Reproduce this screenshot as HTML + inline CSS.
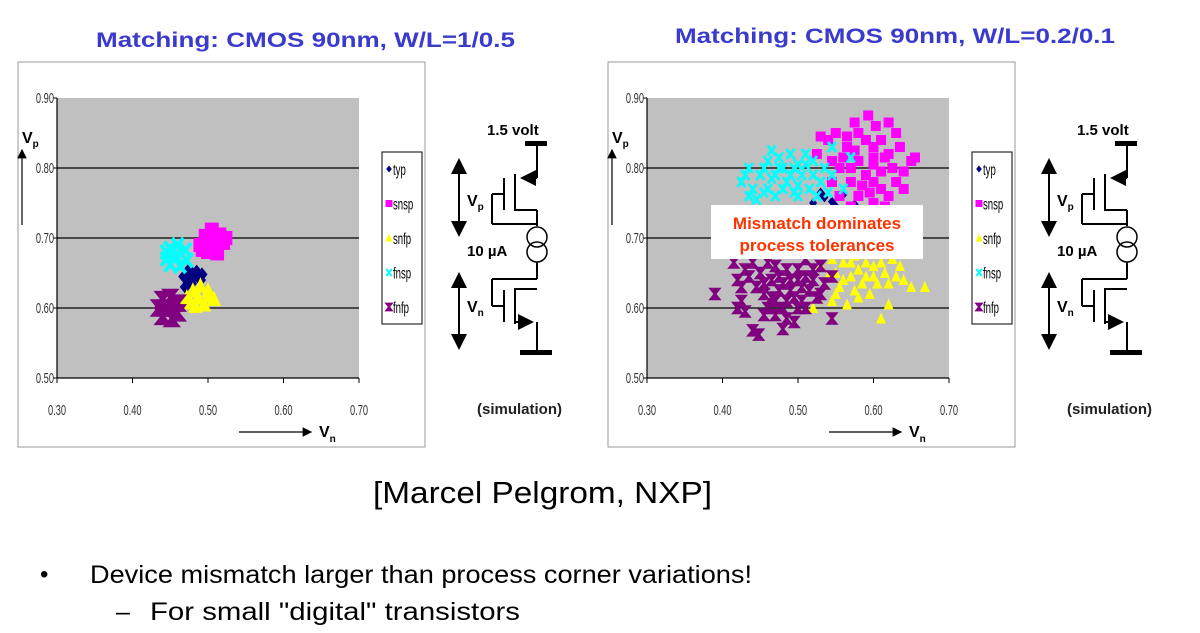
<!DOCTYPE html>
<html><head><meta charset="utf-8">
<style>
html,body{margin:0;padding:0;background:#fff;}
svg{display:block;}
.t{font-family:"Liberation Sans",sans-serif;}
</style></head>
<body>
<svg id="root" width="1200" height="633" viewBox="0 0 1200 633" xmlns="http://www.w3.org/2000/svg">
<defs>
<marker id="ah" markerWidth="8" markerHeight="8" refX="7" refY="4" orient="auto"><path d="M0,0 L8,4 L0,8 z" fill="#000"/></marker>
</defs>
<text class="t" x="96" y="47" font-size="21" font-weight="bold" fill="#3a3acc" textLength="419" lengthAdjust="spacingAndGlyphs">Matching: CMOS 90nm, W/L=1/0.5</text>
<text class="t" x="675" y="43" font-size="21" font-weight="bold" fill="#3a3acc" textLength="440" lengthAdjust="spacingAndGlyphs">Matching: CMOS 90nm, W/L=0.2/0.1</text>
<g id="chartL"></g>
<g id="chartR"></g>
<g id="circL"></g>
<g id="circR"></g>
<text class="t" x="373" y="503" font-size="31" fill="#000" textLength="339" lengthAdjust="spacingAndGlyphs">[Marcel Pelgrom, NXP]</text>
<text class="t" x="40" y="582" font-size="24">•</text>
<text class="t" x="90" y="583" font-size="25" fill="#000" textLength="662" lengthAdjust="spacingAndGlyphs">Device mismatch larger than process corner variations!</text>
<text class="t" x="116" y="620" font-size="25">–</text>
<text class="t" x="150" y="620" font-size="25" fill="#000" textLength="370" lengthAdjust="spacingAndGlyphs">For small "digital" transistors</text>
</svg>
<script>
const xTicks=[0.30,0.40,0.50,0.60,0.70];
const yTicks=[0.50,0.60,0.70,0.80,0.90];
const seriesNames=["typ","snsp","snfp","fnsp","fnfp"];
const seriesColors=["#000080","#ff00ff","#ffff00","#00ffff","#800080"];
// Left chart (W/L=1/0.5) cloud points [Vn,Vp]
const L_typ=[[0.468,0.645],[0.475,0.655],[0.485,0.652],[0.49,0.64],[0.478,0.635],[0.47,0.63],[0.482,0.645],[0.492,0.648],[0.474,0.642]];
const L_snsp=[[0.49,0.69],[0.497,0.703],[0.505,0.712],[0.515,0.705],[0.523,0.7],[0.51,0.688],[0.5,0.68],[0.512,0.678],[0.52,0.693],[0.493,0.683],[0.503,0.695]];
const L_snfp=[[0.472,0.615],[0.48,0.625],[0.49,0.632],[0.5,0.625],[0.508,0.613],[0.495,0.605],[0.483,0.603],[0.487,0.615],[0.477,0.608],[0.503,0.618]];
const L_fnsp=[[0.445,0.67],[0.45,0.685],[0.46,0.69],[0.47,0.683],[0.472,0.668],[0.463,0.66],[0.45,0.662],[0.457,0.675],[0.445,0.68]];
const L_fnfp=[[0.435,0.6],[0.44,0.612],[0.45,0.615],[0.46,0.607],[0.46,0.593],[0.452,0.585],[0.44,0.588],[0.445,0.6]];
// Right chart (W/L=0.2/0.1)
const R_typ=[[0.52,0.75],[0.535,0.758],[0.545,0.752],[0.56,0.762],[0.575,0.748],[0.55,0.745],[0.53,0.765]];
const R_snsp=[[0.525,0.82],[0.54,0.84],[0.55,0.85],[0.565,0.845],[0.58,0.85],[0.593,0.875],[0.603,0.86],[0.62,0.865],[0.63,0.85],[0.6,0.83],[0.615,0.815],[0.625,0.8],[0.64,0.795],[0.65,0.81],[0.655,0.815],[0.58,0.81],[0.59,0.79],[0.57,0.78],[0.555,0.8],[0.6,0.78],[0.61,0.77],[0.62,0.76],[0.58,0.76],[0.6,0.75],[0.545,0.78],[0.565,0.83],[0.61,0.84],[0.63,0.78],[0.545,0.81],[0.56,0.815],[0.575,0.825],[0.59,0.84],[0.6,0.805],[0.61,0.795],[0.62,0.82],[0.635,0.83],[0.57,0.8],[0.585,0.775],[0.595,0.765],[0.64,0.77],[0.555,0.76],[0.57,0.745],[0.615,0.745],[0.53,0.845],[0.575,0.865],[0.6,0.815]];
const R_snfp=[[0.53,0.66],[0.545,0.67],[0.55,0.65],[0.56,0.64],[0.57,0.665],[0.58,0.655],[0.59,0.645],[0.6,0.66],[0.605,0.635],[0.615,0.65],[0.625,0.67],[0.63,0.645],[0.64,0.64],[0.65,0.63],[0.668,0.63],[0.62,0.605],[0.61,0.585],[0.565,0.605],[0.545,0.61],[0.52,0.6],[0.575,0.625],[0.595,0.62],[0.585,0.68],[0.555,0.68],[0.6,0.685],[0.54,0.645],[0.555,0.63],[0.57,0.645],[0.585,0.635],[0.6,0.645],[0.61,0.665],[0.62,0.635],[0.56,0.665],[0.575,0.675],[0.59,0.665],[0.635,0.66],[0.58,0.615],[0.55,0.62]];
const R_fnsp=[[0.425,0.78],[0.435,0.8],[0.44,0.77],[0.45,0.79],[0.46,0.81],[0.465,0.825],[0.475,0.815],[0.48,0.8],[0.49,0.79],[0.495,0.8],[0.5,0.775],[0.51,0.805],[0.52,0.79],[0.53,0.78],[0.46,0.77],[0.47,0.76],[0.48,0.77],[0.5,0.76],[0.515,0.77],[0.545,0.83],[0.57,0.815],[0.545,0.79],[0.56,0.77],[0.435,0.76],[0.49,0.82],[0.445,0.755],[0.455,0.8],[0.47,0.79],[0.485,0.78],[0.505,0.79],[0.525,0.76],[0.54,0.765],[0.455,0.765],[0.475,0.8],[0.495,0.765],[0.51,0.82],[0.43,0.79],[0.52,0.81],[0.535,0.8],[0.465,0.785],[0.5,0.805]];
const R_fnfp=[[0.39,0.62],[0.415,0.665],[0.42,0.64],[0.425,0.61],[0.43,0.595],[0.44,0.665],[0.445,0.63],[0.45,0.65],[0.455,0.62],[0.46,0.6],[0.465,0.64],[0.47,0.66],[0.475,0.625],[0.48,0.6],[0.485,0.585],[0.49,0.64],[0.495,0.615],[0.5,0.655],[0.505,0.63],[0.51,0.6],[0.52,0.64],[0.525,0.615],[0.53,0.66],[0.545,0.585],[0.545,0.645],[0.44,0.568],[0.448,0.562],[0.48,0.57],[0.495,0.58],[0.51,0.67],[0.47,0.61],[0.455,0.59],[0.5,0.6],[0.435,0.645],[0.425,0.63],[0.43,0.655],[0.46,0.665],[0.475,0.645],[0.485,0.655],[0.49,0.625],[0.505,0.61],[0.515,0.625],[0.52,0.655],[0.535,0.635],[0.465,0.615],[0.48,0.635],[0.5,0.64],[0.51,0.645],[0.47,0.59],[0.485,0.61],[0.53,0.62],[0.455,0.635],[0.42,0.6]];
const NS="http://www.w3.org/2000/svg";
function mk(tag,attrs,parent,txt){const e=document.createElementNS(NS,tag);for(const k in attrs)e.setAttribute(k,attrs[k]);if(txt!==undefined)e.textContent=txt;parent.appendChild(e);return e;}
function marker(g,k,cx,cy,s,name){
  let e;
  const c=seriesColors[k];
  if(k===0){e=mk('path',{d:`M${cx},${cy-s} L${cx+s*0.8},${cy} L${cx},${cy+s} L${cx-s*0.8},${cy} z`,fill:c},g);}
  else if(k===1){e=mk('rect',{x:cx-s,y:cy-s,width:2*s,height:2*s,fill:c},g);}
  else if(k===2){e=mk('path',{d:`M${cx},${cy-s*1.2} L${cx+s},${cy+s} L${cx-s},${cy+s} z`,fill:c},g);}
  else if(k===3){e=mk('path',{d:`M${cx-s*0.8},${cy-s} L${cx+s*0.8},${cy+s} M${cx+s*0.8},${cy-s} L${cx-s*0.8},${cy+s}`,stroke:c,'stroke-width':Math.max(1.8,s*0.55),fill:'none'},g);}
  else {e=mk('path',{d:`M${cx-s*0.8},${cy-s} L${cx+s*0.8},${cy-s} L${cx-s*0.8},${cy+s} L${cx+s*0.8},${cy+s} z`,fill:c,stroke:c,'stroke-width':s*0.5},g);}
  
  
  return e;
}
function chart(g,ox,series,ms,legX){
  const px0=ox+57,px1=ox+359,py0=378,py1=98;
  const xs=v=>px0+(v-0.3)/0.4*(px1-px0);
  const ys=v=>py0-(v-0.5)/0.4*(py0-py1);
  let f=mk('rect',{x:ox+18,y:62,width:407,height:385,fill:'#fff',stroke:'#999','stroke-width':1},g);
  
  let pa=mk('rect',{x:px0,y:py1,width:px1-px0,height:py0-py1,fill:'#c0c0c0'},g);
  
  yTicks.forEach(v=>{
    if(v>0.5&&v<0.9){let l=mk('line',{x1:px0,x2:px1,y1:ys(v),y2:ys(v),stroke:'#000','stroke-width':1.3},g);}
    mk('line',{x1:px0-4,x2:px0,y1:ys(v),y2:ys(v),stroke:'#000'},g);
    let t=mk('text',{x:px0-3,y:ys(v)+5,'font-size':15,'text-anchor':'end',fill:'#333','font-family':'Liberation Sans, sans-serif',transform:`translate(${px0-3},0) scale(0.62,1) translate(${-(px0-3)},0)`},g,v.toFixed(2));
    
  });
  mk('line',{x1:px0,x2:px0,y1:py1,y2:py0,stroke:'#000','stroke-width':1.2},g);
  mk('line',{x1:px0,x2:px1,y1:py0,y2:py0,stroke:'#000','stroke-width':1.2},g);
  xTicks.forEach(v=>{
    mk('line',{x1:xs(v),x2:xs(v),y1:py0,y2:py0+5,stroke:'#000'},g);
    let t=mk('text',{x:xs(v),y:415,'font-size':15,'text-anchor':'middle',fill:'#333','font-family':'Liberation Sans, sans-serif',transform:`translate(${xs(v)},0) scale(0.62,1) translate(${-xs(v)},0)`},g,v.toFixed(2));
    
  });
  series.forEach((pts,k)=>{
    const sg=mk('g',{},g);
    
    
    pts.forEach(p=>marker(sg,k,xs(p[0]),ys(p[1]),ms,'point-'+seriesNames[k]));
  });
  let vp=mk('text',{x:ox+22,y:143,'font-size':16,'font-weight':'bold','font-family':'Liberation Sans, sans-serif'},g);
  vp.innerHTML='V<tspan font-size="10" dy="4">p</tspan>';
  
  mk('line',{x1:ox+22,y1:225,x2:ox+22,y2:150,stroke:'#000','stroke-width':1.2,'marker-end':'url(#ah)'},g);
  let vn=mk('text',{x:ox+319,y:437,'font-size':16,'font-weight':'bold','font-family':'Liberation Sans, sans-serif'},g);
  vn.innerHTML='V<tspan font-size="10" dy="5">n</tspan>';
  
  mk('line',{x1:ox+239,y1:432,x2:ox+311,y2:432,stroke:'#000','stroke-width':1.2,'marker-end':'url(#ah)'},g);
  const lg=mk('g',{},g);
  
  mk('rect',{x:legX,y:152,width:40,height:172,fill:'#fff',stroke:'#000','stroke-width':1},lg);
  seriesNames.forEach((n,k)=>{
    const y=169+k*34.5;
    const eg=mk('g',{},lg);
    
    marker(eg,k,legX+7,y,3.5,'legend-marker-'+n);
    mk('text',{x:legX+11,y:y+6,'font-size':16,fill:'#000','font-family':'Liberation Sans, sans-serif',transform:`translate(${legX+11},0) scale(0.6,1) translate(${-(legX+11)},0)`},eg,n);
  });
  return {xs,ys};
}
chart(document.getElementById('chartL'),0,[L_typ,L_snsp,L_snfp,L_fnsp,L_fnfp],7,382);
const gR=document.getElementById('chartR');
chart(gR,590,[R_typ,R_snsp,R_snfp,R_fnsp,R_fnfp],5,972);
const box=mk('g',{},gR);

mk('rect',{x:711,y:205,width:212,height:54,fill:'#fff'},box);
mk('text',{x:817,y:229,'font-size':17,'font-weight':'bold',fill:'#ff3300','text-anchor':'middle','font-family':'Liberation Sans, sans-serif'},box,'Mismatch dominates');
mk('text',{x:817,y:251,'font-size':17,'font-weight':'bold',fill:'#ff3300','text-anchor':'middle','font-family':'Liberation Sans, sans-serif'},box,'process tolerances');
function circuit(g,dx){
  const L=(a,b,c,d,w)=>mk('line',{x1:a+dx,y1:b,x2:c+dx,y2:d,stroke:'#000','stroke-width':w||2},g);
  let t=mk('text',{x:487+dx,y:135,'font-size':15,'font-weight':'bold','font-family':'Liberation Sans, sans-serif'},g,'1.5 volt');
  
  mk('rect',{x:525+dx,y:141,width:22,height:5,fill:'#000'},g);
  L(537,146,537,178);
  mk('line',{x1:537+dx,y1:178,x2:522+dx,y2:178,stroke:'#000','stroke-width':2,'marker-end':'url(#ah)'},g);
  L(515,174,515,211); L(504,178,504,210);
  L(504,194,492,194); L(492,194,492,224); L(492,224,537,224);
  L(515,210,537,210); L(537,210,537,226);
  mk('circle',{cx:537+dx,cy:237,r:10,fill:'none',stroke:'#000','stroke-width':1.5},g);
  mk('circle',{cx:537+dx,cy:252,r:10,fill:'none',stroke:'#000','stroke-width':1.5},g);
  L(537,262,537,279); L(492,279,537,279); L(492,279,492,306); L(492,306,504,306);
  L(504,290,504,322); L(515,288,515,324); L(515,289,537,289);
  mk('line',{x1:515+dx,y1:322,x2:532+dx,y2:322,stroke:'#000','stroke-width':2,'marker-end':'url(#ah)'},g);
  L(537,322,537,351);
  mk('rect',{x:520+dx,y:350,width:32,height:5,fill:'#000'},g);
  mk('line',{x1:459+dx,y1:200,x2:459+dx,y2:160,stroke:'#000','stroke-width':2,'marker-end':'url(#ah)'},g);
  mk('line',{x1:459+dx,y1:200,x2:459+dx,y2:235,stroke:'#000','stroke-width':2,'marker-end':'url(#ah)'},g);
  mk('line',{x1:459+dx,y1:310,x2:459+dx,y2:274,stroke:'#000','stroke-width':2,'marker-end':'url(#ah)'},g);
  mk('line',{x1:459+dx,y1:310,x2:459+dx,y2:348,stroke:'#000','stroke-width':2,'marker-end':'url(#ah)'},g);
  let a=mk('text',{x:467+dx,y:206,'font-size':16,'font-weight':'bold','font-family':'Liberation Sans, sans-serif'},g);a.innerHTML='V<tspan font-size="10" dy="4">p</tspan>';
  
  let b=mk('text',{x:467+dx,y:256,'font-size':15,'font-weight':'bold','font-family':'Liberation Sans, sans-serif'},g,'10 µA');
  
  let c=mk('text',{x:467+dx,y:312,'font-size':16,'font-weight':'bold','font-family':'Liberation Sans, sans-serif'},g);c.innerHTML='V<tspan font-size="10" dy="4">n</tspan>';
  
  let s=mk('text',{x:477+dx,y:414,'font-size':15,'font-weight':'bold','font-family':'Liberation Sans, sans-serif',fill:'#222'},g,'(simulation)');
  
}
circuit(document.getElementById('circL'),0);
circuit(document.getElementById('circR'),590);
</script>
</body></html>
